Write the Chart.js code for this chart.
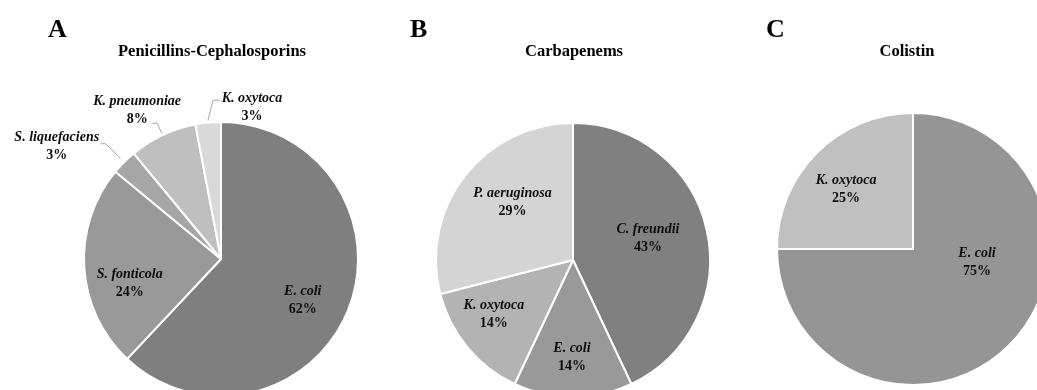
<!DOCTYPE html>
<html>
<head>
<meta charset="utf-8">
<script src="https://cdn.jsdelivr.net/npm/chart.js@4.4.1/dist/chart.umd.min.js"></script>
<style>
  html, body { margin: 0; padding: 0; background: #ffffff; overflow: hidden; }
  #wrap { position: relative; width: 1037px; height: 390px; }
  #wrap canvas { position: absolute; left: 0; top: 0; }
</style>
</head>
<body>
<div id="wrap">
  <canvas id="pieA" width="1037" height="390"></canvas>
  <canvas id="pieB" width="1037" height="390"></canvas>
  <canvas id="pieC" width="1037" height="390"></canvas>
</div>
<script>
// Resistance profile of isolates, share (%) per species, for each antibiotic class
const panelLetters = ['A', 'B', 'C'];
const panelTitles = ['Penicillins-Cephalosporins', 'Carbapenems', 'Colistin'];

const penCephSpecies = ['E. coli', 'S. fonticola', 'S. liquefaciens', 'K. pneumoniae', 'K. oxytoca'];
const penCephShares = [62, 24, 3, 8, 3];

const carbaSpecies = ['C. freundii', 'E. coli', 'K. oxytoca', 'P. aeruginosa'];
const carbaShares = [43, 14, 14, 29];

const colistinSpecies = ['E. coli', 'K. oxytoca'];
const colistinShares = [75, 25];

const W = 1037, H = 390;
const FONT = "'Liberation Serif', 'Times New Roman', serif";

// Draws the panel letter, the title and the slice labels (inside, or outside with a leader line)
function makeLabelPlugin(cfg) {
  return {
    id: 'pieLabels' + cfg.letter,
    afterDatasetsDraw(chart) {
      const ctx = chart.ctx;
      const meta = chart.getDatasetMeta(0);
      const values = chart.data.datasets[0].data;
      const names = chart.data.labels;
      ctx.save();
      ctx.fillStyle = '#000000';

      // panel letter
      ctx.font = 'bold 26px ' + FONT;
      ctx.textAlign = 'left';
      ctx.textBaseline = 'alphabetic';
      ctx.fillText(cfg.letter, cfg.letterX, 37);

      // title
      ctx.font = 'bold 16.5px ' + FONT;
      ctx.textAlign = 'center';
      ctx.fillText(cfg.title, cfg.titleX, 56);

      ctx.textBaseline = 'middle';
      meta.data.forEach((arc, i) => {
        const p = arc.getProps(['x', 'y', 'startAngle', 'endAngle', 'outerRadius'], true);
        const mid = (p.startAngle + p.endAngle) / 2;
        const place = cfg.placement[i];
        let tx, ty;
        if (place.outside) {
          const a0 = mid;
          const sx = p.x + Math.cos(a0) * (p.outerRadius + place.gap);
          const sy = p.y + Math.sin(a0) * (p.outerRadius + place.gap);
          const a1 = mid + place.turn * Math.PI / 180;
          const ex = p.x + Math.cos(a1) * (p.outerRadius + place.ext);
          const ey = p.y + Math.sin(a1) * (p.outerRadius + place.ext);
          const hx = ex + place.hook;
          ctx.strokeStyle = '#a6a6a6';
          ctx.lineWidth = 1;
          ctx.beginPath();
          ctx.moveTo(sx, sy);
          ctx.lineTo(ex, ey);
          ctx.lineTo(hx, ey);
          ctx.stroke();
          tx = hx + place.dx;
          ty = ey + place.dy;
        } else {
          const a = mid + place.shift * Math.PI / 180;
          const r = p.outerRadius * place.frac;
          tx = p.x + Math.cos(a) * r;
          ty = p.y + Math.sin(a) * r - 9;
        }
        ctx.textAlign = 'center';
        ctx.fillStyle = '#0d0d0d';
        ctx.font = 'italic bold 14px ' + FONT;
        ctx.fillText(names[i], tx, ty);
        ctx.font = 'bold 14px ' + FONT;
        ctx.fillText(values[i] + '%', tx, ty + 18);
      });
      ctx.restore();
    }
  };
}

function makePie(canvasId, species, shares, colors, cx, cy, radius, cfg) {
  const a = Math.min(cx, W - cx);
  const b = Math.min(cy, H - cy);
  return new Chart(document.getElementById(canvasId), {
    type: 'pie',
    data: {
      labels: species,
      datasets: [{
        data: shares,
        backgroundColor: colors,
        borderColor: '#ffffff',
        borderWidth: 2,
        clip: false
      }]
    },
    options: {
      responsive: false,
      animation: false,
      events: [],
      radius: radius,
      layout: {
        padding: { left: cx - a, right: W - cx - a, top: cy - b, bottom: H - cy - b }
      },
      plugins: {
        legend: { display: false },
        tooltip: { enabled: false },
        title: { display: false }
      }
    },
    plugins: [makeLabelPlugin(cfg)]
  });
}

makePie('pieA', penCephSpecies, penCephShares,
  ['#7f7f7f', '#999999', '#a6a6a6', '#bfbfbf', '#d9d9d9'],
  221, 259, 137, {
    letter: panelLetters[0], letterX: 48, title: panelTitles[0], titleX: 212,
    placement: [
      { shift: 5.4, frac: 0.67 },
      { shift: -11.4, frac: 0.69 },
      { outside: true, gap: 5, ext: 26, turn: 0, hook: -5, dx: -44, dy: -6 },
      { outside: true, gap: 2, ext: 13, turn: 0, hook: -5, dx: -15, dy: -22 },
      { outside: true, gap: 2, ext: 22, turn: 2.5, hook: 7, dx: 32, dy: -2 }
    ]
  });

makePie('pieB', carbaSpecies, carbaShares,
  ['#808080', '#999999', '#b3b3b3', '#d4d4d4'],
  573, 260, 137, {
    letter: panelLetters[1], letterX: 410, title: panelTitles[1], titleX: 574,
    placement: [
      { shift: -3.8, frac: 0.57 },
      { shift: 0.6, frac: 0.71 },
      { shift: 5.2, frac: 0.70 },
      { shift: 5.8, frac: 0.61 }
    ]
  });

makePie('pieC', colistinSpecies, colistinShares,
  ['#959595', '#c0c0c0'],
  913, 249, 136, {
    letter: panelLetters[2], letterX: 766, title: panelTitles[2], titleX: 907,
    placement: [
      { shift: -33.6, frac: 0.48 },
      { shift: -3.2, frac: 0.66 }
    ]
  });
</script>
</body>
</html>
